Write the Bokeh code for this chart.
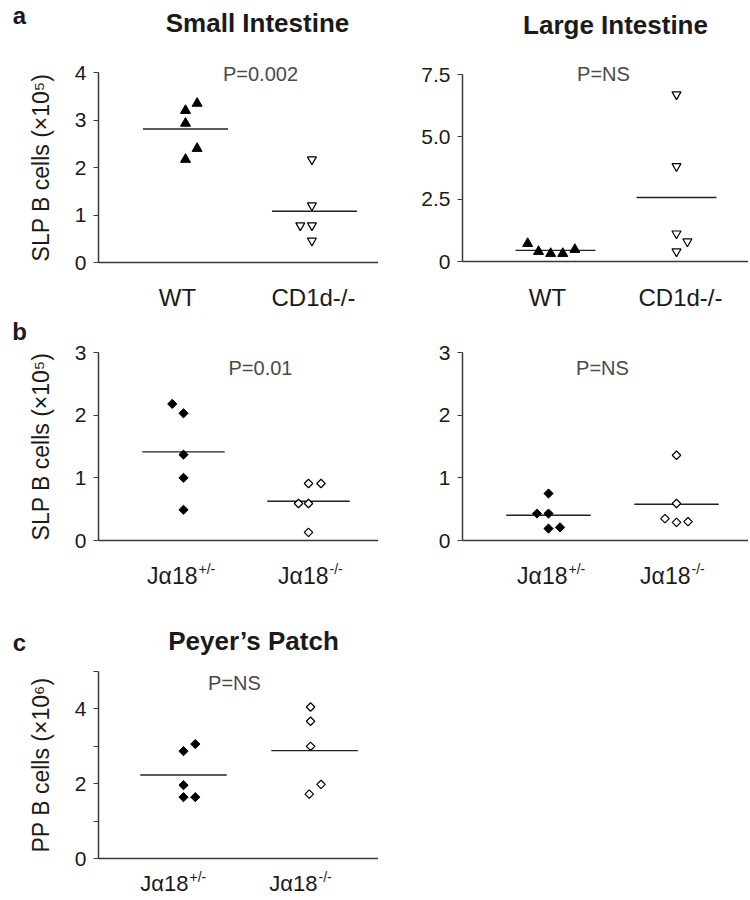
import numpy as np
from bokeh.plotting import figure
from bokeh.models import Label, FixedTicker, Range1d
from bokeh.layouts import column, row
from bokeh.embed import file_html
from bokeh.resources import INLINE

FONT = "Liberation Sans"

# ---------------- data ----------------
si_groups = ["WT", "CD1d-/-"]
# panel a, Small Intestine (x10^5)
si_wt = [3.35, 3.20, 2.93, 2.40, 2.17]
si_wt_jit = [0.09, 0.0, 0.0, 0.09, 0.0]
si_ko = [2.17, 1.20, 0.78, 0.78, 0.46]
si_ko_jit = [-0.02, -0.02, -0.11, -0.02, -0.02]
si_p = "P=0.002"
# panel a, Large Intestine (x10^5)
li_wt = [0.72, 0.40, 0.32, 0.32, 0.48]
li_wt_jit = [-0.23, -0.14, -0.04, 0.06, 0.16]
li_ko = [6.70, 3.82, 1.12, 0.80, 0.40]
li_ko_jit = [0.0, 0.0, 0.0, 0.09, 0.0]
li_p = "P=NS"
# panel b (x10^5)
ja_base = "J\u03b118"
ja_sup = ["+/-", "-/-"]
b1_het = [2.18, 2.03, 1.37, 1.00, 0.49]
b1_het_jit = [-0.09, 0.0, 0.0, 0.0, 0.0]
b1_ko = [0.91, 0.91, 0.59, 0.59, 0.13]
b1_ko_jit = [0.0, 0.10, -0.08, 0.0, 0.0]
b1_p = "P=0.01"
b2_het = [0.75, 0.43, 0.43, 0.19, 0.21]
b2_het_jit = [0.0, -0.09, 0.0, 0.0, 0.09]
b2_ko = [1.36, 0.59, 0.35, 0.29, 0.30]
b2_ko_jit = [0.0, 0.0, -0.09, 0.0, 0.09]
b2_p = "P=NS"
# panel c, Peyer's Patch (x10^6)
pp_het = [2.87, 3.06, 1.96, 1.64, 1.64]
pp_het_jit = [0.0, 0.09, 0.0, 0.0, 0.09]
pp_ko = [4.05, 3.67, 3.00, 1.98, 1.72]
pp_ko_jit = [-0.03, -0.03, -0.03, 0.05, -0.04]
pp_p = "P=NS"

titles = ["Small Intestine", "Large Intestine", "Peyer\u2019s Patch"]
panel_letters = ["a", "b", "c"]
ylabels = ["SLP B cells (\u00d710\u2075)", "PP B cells (\u00d710\u2076)"]
yticks_si = [0, 1, 2, 3, 4]
yticks_li = [0, 2.5, 5, 7.5]
yticks_li_labels = ["0", "2.5", "5.0", "7.5"]
yticks_b = [0, 1, 2, 3]
yticks_pp = [0, 1, 2, 3, 4, 5]
yticks_pp_labels = ["0", "", "2", "", "4", ""]

INK = "#1a1a1a"
PCOL = "#4a4a4a"
AX = "#3a3a3a"


class Panel:
    """A figure whose frame fills its whole box; the axes sit inside it."""

    def __init__(self, box, axis_x, y0, ytop, ymax, c1, c2, ticks, tick_labels=None, ylabel=None):
        L, T, R, B = box
        self.kx = c2 - c1
        self.ky = (y0 - ytop) / ymax
        self.c1, self.y0 = c1, y0
        xs, xe = self.x(L), self.x(R)
        ys, ye = self.y(B), self.y(T)
        p = figure(width=R - L, height=B - T, x_range=Range1d(xs, xe), y_range=Range1d(ys, ye),
                   output_backend="svg", toolbar_location=None, title=None,
                   min_border_left=0, min_border_right=0, min_border_top=0, min_border_bottom=0)
        p.grid.visible = False
        p.outline_line_color = None
        p.background_fill_color = "white"
        p.border_fill_color = "white"
        ax_x = self.x(axis_x)
        xa = p.xaxis[0]
        xa.fixed_location = 0
        xa.bounds = (ax_x, xe)
        xa.ticker = FixedTicker(ticks=[])
        xa.major_tick_line_color = None
        xa.minor_tick_line_color = None
        xa.major_label_text_font_size = "0px"
        xa.axis_line_color = AX
        xa.axis_line_width = 1.5
        ya = p.yaxis[0]
        ya.fixed_location = ax_x
        ya.bounds = (0, ymax)
        ya.ticker = FixedTicker(ticks=ticks)
        if tick_labels is not None:
            ya.major_label_overrides = dict(zip(ticks, tick_labels))
        ya.minor_tick_line_color = None
        ya.major_tick_in = 0
        ya.major_tick_out = 5
        ya.major_tick_line_color = AX
        ya.major_tick_line_width = 1.2
        ya.axis_line_color = AX
        ya.axis_line_width = 1.5
        ya.major_label_standoff = 7
        ya.major_label_text_font = FONT
        ya.major_label_text_font_size = "21px"
        ya.major_label_text_color = INK
        if ylabel:
            ya.axis_label = ylabel
            ya.axis_label_text_font = FONT
            ya.axis_label_text_font_size = "23px"
            ya.axis_label_text_font_style = "normal"
            ya.axis_label_text_color = INK
            ya.axis_label_standoff = 18
        self.p = p

    # page pixel -> data
    def x(self, px):
        return 1 + (px - self.c1) / self.kx

    def y(self, py):
        return (self.y0 - py) / self.ky

    def text(self, X, Y, s, size="20px", color=INK, style="normal", align="center"):
        self.p.add_layout(Label(x=self.x(X), y=self.y(Y), text=s, text_font=FONT,
                                text_font_size=size, text_color=color, text_font_style=style,
                                text_align=align, text_baseline="middle"))

    def groups(self, vals1, jit1, vals2, jit2, m1, m2):
        p = self.p
        for g, v in ((1, vals1), (2, vals2)):
            mu = float(np.mean(v))
            p.segment(x0=[g - 0.33], x1=[g + 0.33], y0=[mu], y1=[mu], line_color="#222",
                      line_width=1.4)
        m1(p, 1 + np.array(jit1), vals1)
        m2(p, 2 + np.array(jit2), vals2)

    def cats(self, xs, Y):
        for name, X in zip(si_groups, xs):
            self.text(X, Y, name, size="24px")

    def ja(self, xs, Y, size="23px"):
        for sup, X in zip(ja_sup, xs):
            self.text(X, Y, ja_base, size=size, align="right")
            self.text(X + 1, Y - 7, sup, size="14px", align="left")


def tri_fill(p, x, y):
    p.scatter(x=x, y=y, marker="triangle", size=10, fill_color="black", line_color="black")


def tri_open(p, x, y):
    p.scatter(x=x, y=y, marker="inverted_triangle", size=9, fill_color="white",
              line_color="black", line_width=1.2)


def dia_fill(p, x, y):
    p.scatter(x=x, y=y, marker="square", angle=np.pi / 4, size=6.5, fill_color="black",
              line_color="black")


def dia_open(p, x, y):
    p.scatter(x=x, y=y, marker="square", angle=np.pi / 4, size=6, fill_color="white",
              line_color="black", line_width=1.2)


# ---------------- panel a: Small Intestine ----------------
a1 = Panel((0, 0, 378, 318), 98, 262, 72, 4, 185, 314, yticks_si, ylabel=ylabels[0])
a1.groups(si_wt, si_wt_jit, si_ko, si_ko_jit, tri_fill, tri_open)
a1.cats([177, 313], 297)
a1.text(257, 22, titles[0], size="26px", style="bold")
a1.text(260, 73, si_p, size="20px", color=PCOL)
a1.text(19, 15, panel_letters[0], size="24px", style="bold")

# ---------------- panel a: Large Intestine ----------------
a2 = Panel((378, 0, 748, 318), 462, 261, 74, 7.5, 555, 676, yticks_li, yticks_li_labels)
a2.groups(li_wt, li_wt_jit, li_ko, li_ko_jit, tri_fill, tri_open)
a2.cats([547, 680], 297)
a2.text(615, 24, titles[1], size="26px", style="bold")
a2.text(603, 73, li_p, size="20px", color=PCOL)

# ---------------- panel b ----------------
b1 = Panel((0, 318, 378, 598), 98, 540, 352, 3, 183, 308, yticks_b, ylabel=ylabels[0])
b1.groups(b1_het, b1_het_jit, b1_ko, b1_ko_jit, dia_fill, dia_open)
b1.ja([197, 328], 575)
b1.text(260, 367, b1_p, size="20px", color=PCOL)
b1.text(19, 331, panel_letters[1], size="24px", style="bold")

b2 = Panel((378, 318, 748, 598), 462, 540, 352, 3, 548, 676, yticks_b)
b2.groups(b2_het, b2_het_jit, b2_ko, b2_ko_jit, dia_fill, dia_open)
b2.ja([567, 690], 575)
b2.text(602, 367, b2_p, size="20px", color=PCOL)

# ---------------- panel c: Peyer's Patch ----------------
c1 = Panel((0, 598, 378, 898), 98, 858, 671, 5, 183, 314, yticks_pp, yticks_pp_labels,
           ylabel=ylabels[1])
c1.groups(pp_het, pp_het_jit, pp_ko, pp_ko_jit, dia_fill, dia_open)
c1.ja([188, 317], 883, size="22px")
c1.text(253, 640, titles[2], size="26px", style="bold")
c1.text(234, 682, pp_p, size="20px", color=PCOL)
c1.text(19, 642, panel_letters[2], size="24px", style="bold")

layout = column(row(a1.p, a2.p), row(b1.p, b2.p), c1.p)
open("out.html", "w").write(file_html(layout, INLINE))
